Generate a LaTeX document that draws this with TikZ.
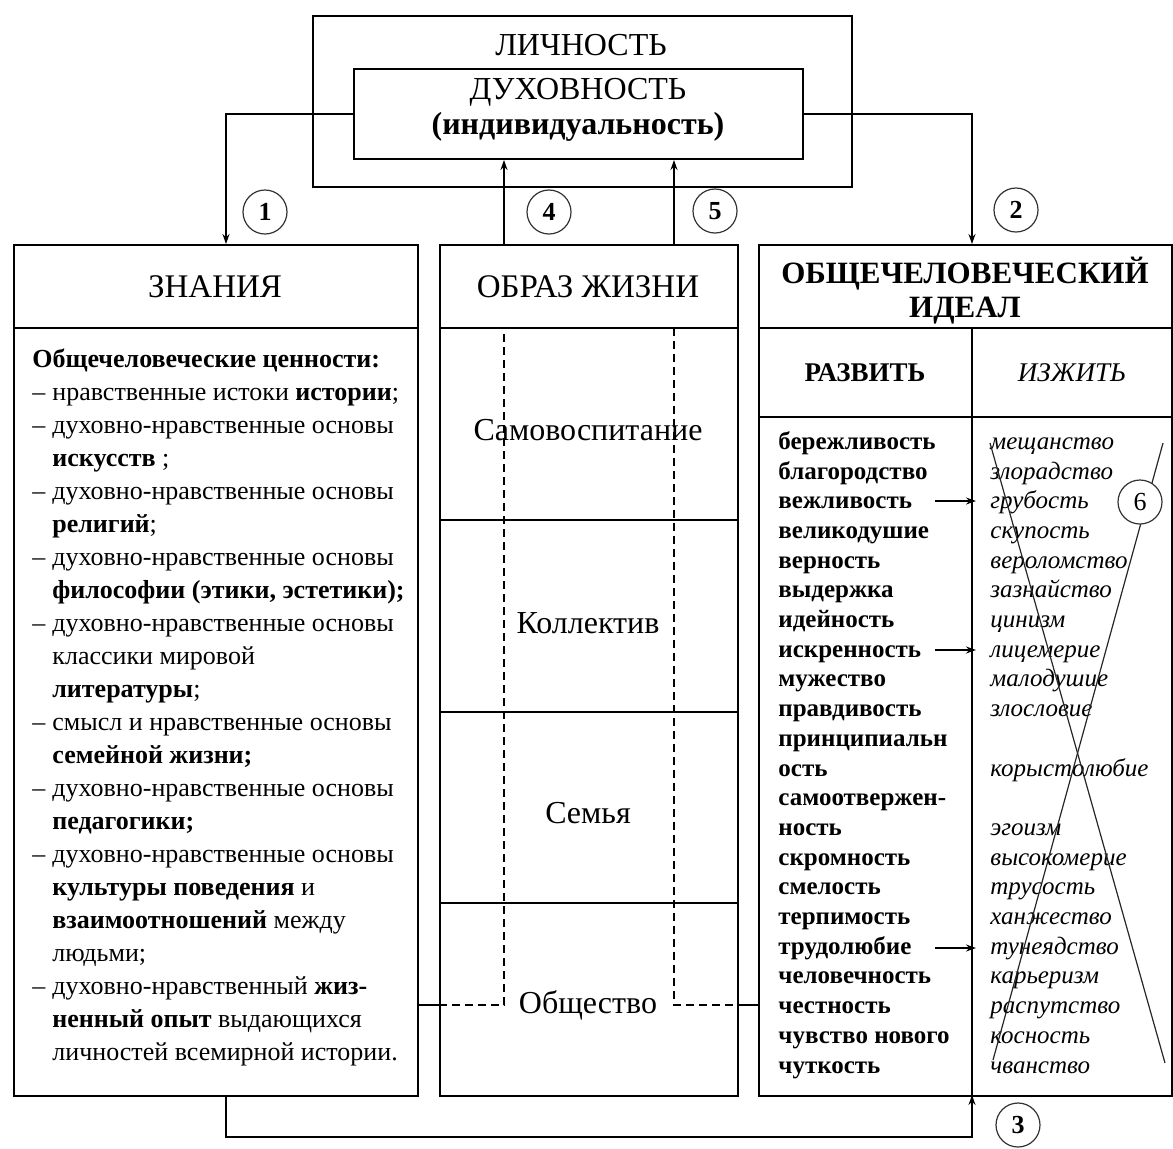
\documentclass[tikz,border=0pt]{standalone}
\usepackage{fontspec}
\setmainfont{Liberation Serif}
\usetikzlibrary{arrows.meta,positioning}

\newcommand{\dsh}{\makebox[10pt][l]{–}}
\newcommand{\ind}{\hspace*{10pt}}

\begin{document}
\begin{tikzpicture}[x=0.5pt,y=-0.5pt,
    box/.style={rectangle, draw=black, line width=1pt, anchor=north west, inner sep=0pt},
    rule/.style={line width=1pt},
    conn/.style={line width=0.7pt},
    dsh/.style={line width=0.6pt, dash pattern=on 4pt off 2.5pt},
    xline/.style={line width=0.6pt, black!85},
    num/.style={circle, draw=black!80, line width=0.6pt, fill=white, minimum size=22pt, inner sep=0pt, font=\fontsize{13}{13}\selectfont\bfseries},
    head/.style={font=\fontsize{16.5}{16.5}\selectfont},
    row/.style={font=\fontsize{16}{16}\selectfont},
    >={Stealth[length=5pt,width=3.5pt]}]

\useasboundingbox (0,0) rectangle (1173,1148);

\node [box, minimum width=269.5pt, minimum height=85.5pt] (lichn) at (312,15) {};
\node [font=\fontsize{16}{16}\selectfont] (lichntxt) at (581,45) {ЛИЧНОСТЬ};
\node [box, minimum width=224.5pt, minimum height=45pt] (dukh) at (353,68) {};
\node [font=\fontsize{16}{16}\selectfont] (dukhtxt) at (578,92) {ДУХОВНОСТЬ};
\node [font=\fontsize{16}{16}\selectfont\bfseries] (indiv) at (578,127) {(индивидуальность)};

\node [box, minimum width=202pt, minimum height=425.5pt] (znan) at (13,244) {};
\node [box, minimum width=149pt, minimum height=425.5pt] (obraz) at (439,244) {};
\node [box, minimum width=206.5pt, minimum height=425.5pt] (ideal) at (758,244) {};

\draw [rule] (13,328) -- (417,328);
\foreach \y in {328,520,712,903}
    \draw [rule] (439,\y) -- (737,\y);
\draw [rule] (758,328) -- (1171,328);
\draw [rule] (758,417) -- (1171,417);
\draw [rule] (972,328) -- (972,1095);

\node [head] (znanhead) at (215,287) {ЗНАНИЯ};
\node [head] (obrazhead) at (588,287) {ОБРАЗ ЖИЗНИ};
\node [align=center, font=\fontsize{15.5}{17}\selectfont\bfseries] (idealhead) at (965,291) {ОБЩЕЧЕЛОВЕЧЕСКИЙ\\ИДЕАЛ};
\node [font=\fontsize{13.5}{13.5}\selectfont\bfseries] (razvhead) at (865,373) {РАЗВИТЬ};
\node [font=\fontsize{13.5}{13.5}\selectfont\itshape] (izhhead) at (1072,373) {ИЗЖИТЬ};

\node [anchor=base west, align=left, inner sep=0pt, font=\fontsize{13}{16.5}\selectfont] (znantxt) at (32,1060) {%
\textbf{Общечеловеческие ценности:}\\
\dsh нравственные истоки \textbf{истории};\\
\dsh духовно-нравственные основы\\
\ind\textbf{искусств} ;\\
\dsh духовно-нравственные основы\\
\ind\textbf{религий};\\
\dsh духовно-нравственные основы\\
\ind\textbf{философии (этики, эстетики);}\\
\dsh духовно-нравственные основы\\
\ind классики мировой\\
\ind\textbf{литературы};\\
\dsh смысл и нравственные основы\\
\ind\textbf{семейной жизни;}\\
\dsh духовно-нравственные основы\\
\ind\textbf{педагогики;}\\
\dsh духовно-нравственные основы\\
\ind\textbf{культуры поведения} и\\
\ind\textbf{взаимоотношений} между\\
\ind людьми;\\
\dsh духовно-нравственный \textbf{жиз-}\\
\ind\textbf{ненный опыт} выдающихся\\
\ind личностей всемирной истории.};

\node [row] (samo) at (588,430) {Самовоспитание};
\node [row] (koll) at (588,623) {Коллектив};
\node [row] (semya) at (588,813) {Семья};
\node [row] (obsch) at (588,1005) {Общество};

\coordinate (p4) at (504,244);
\coordinate (p5) at (674,244);
\draw [dsh] (obraz.west |- obsch) -- (p4 |- obsch) -- (504,328);
\draw [dsh] (674,328) -- (p5 |- obsch) -- (obraz.east |- obsch);
\draw [conn] (znan.east |- obsch) -- (obraz.west |- obsch);
\draw [conn] (obraz.east |- obsch) -- (ideal.west |- obsch);
\draw [conn, ->] (p4) -- (p4 |- dukh.south);
\draw [conn, ->] (p5) -- (p5 |- dukh.south);

\node [anchor=base west, align=left, inner sep=0pt, font=\fontsize{12.5}{14.85}\selectfont\bfseries] (razv) at (778,1073) {%
бережливость\\благородство\\вежливость\\великодушие\\верность\\выдержка\\идейность\\искренность\\мужество\\правдивость\\принципиальн\\ость\\самоотвержен-\\ность\\скромность\\смелость\\терпимость\\трудолюбие\\человечность\\честность\\чувство нового\\чуткость};
\node [anchor=base west, align=left, inner sep=0pt, font=\fontsize{12.5}{14.85}\selectfont\itshape] (izh) at (990,1073) {%
мещанство\\злорадство\\грубость\\скупость\\вероломство\\зазнайство\\цинизм\\лицемерие\\малодушие\\злословие\\\mbox{}\\корыстолюбие\\\mbox{}\\эгоизм\\высокомерие\\трусость\\ханжество\\тунеядство\\карьеризм\\распутство\\косность\\чванство};

\foreach \y in {501,650,948}
    \draw [conn, ->] (935,\y) -- (976,\y);

\coordinate (xa1) at (990,443);
\coordinate (xa2) at (1165,1063);
\coordinate (xb1) at (1163,443);
\coordinate (xb2) at (993,1060);
\draw [xline] (xa1) -- (xa2);
\draw [xline] (xb1) -- (xb2);

\coordinate (k1) at (226,244);
\coordinate (k2) at (972,244);
\coordinate (k3a) at (226,1095);
\coordinate (k3b) at (972,1095);
\draw [conn, ->] (dukh.west) -| (k1);
\draw [conn, ->] (dukh.east) -| (k2);
\draw [conn, ->] (k3a) -- ++(0,42) -| (k3b);

\node [num] (n1) at (265,212) {1};
\node [num] (n2) at (1016,210) {2};
\node [num] (n3) at (1018,1125) {3};
\node [num] (n4) at (549,212) {4};
\node [num] (n5) at (715,211) {5};
\node [num, font=\fontsize{13}{13}\selectfont] (n6) at (1140,502) {6};
\end{tikzpicture}
\end{document}
